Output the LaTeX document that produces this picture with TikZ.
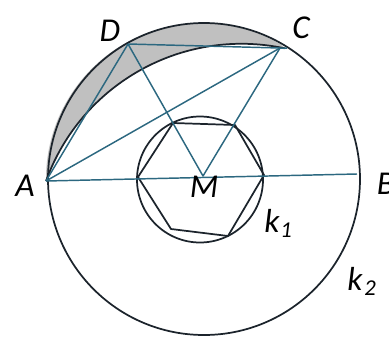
\documentclass[tikz,border=0pt]{standalone}
\usepackage{fontspec}
\setmainfont{Carlito}
\definecolor{tealc}{RGB}{44,104,128}
\definecolor{darkc}{RGB}{28,36,44}
\definecolor{shadec}{RGB}{192,192,192}
\begin{document}
\begin{tikzpicture}[x=0.75pt,y=-0.75pt,
  tealline/.style={draw=tealc,line width=1.1pt,line join=round},
  darkline/.style={draw=darkc,line width=1.3pt,line join=round},
  lbl/.style={font=\fontsize{25}{30}\selectfont\itshape,text=black,inner sep=0pt},
  subl/.style={font=\fontsize{17}{20}\selectfont\itshape,text=black,inner sep=0pt}]
\useasboundingbox (0,0) rectangle (389,336);
\coordinate (O) at (204,179);
\coordinate (I) at (200,179.5);
\coordinate (A) at (46,181);
\coordinate (B) at (357,174);
\coordinate (C) at (280,48);
\coordinate (Cx) at (287,48.2);
\coordinate (D) at (128,44);
\coordinate (M) at (203,176);
\coordinate (H1) at (138,177);
\coordinate (H2) at (173,123);
\coordinate (H3) at (235,125);
\coordinate (H4) at (264,175);
\coordinate (H5) at (228,236);
\coordinate (H6) at (171,229);
\coordinate (T) at (285.2,48.5);
% shaded lune
\fill[shadec] (A) arc[start angle=179.3,end angle=300.3,radius=156] -- (T)
  arc[start angle=282,end angle=199.9,radius=208] -- cycle;
% circles
\draw[darkline] (O) circle[radius=156];
\draw[darkline] (I) circle[radius=63];
\draw[darkline] (H1) -- (H2) -- (H3) -- (H4) -- (H5) -- (H6) -- cycle;
\draw[darkline] (A) arc[start angle=199.9,end angle=282,radius=208];
% teal lines
\draw[tealline] (A) -- (B);
\draw[tealline] (A) -- (D);
\draw[tealline] (A) -- (C);
\draw[tealline] (D) -- (Cx);
\draw[tealline] (D) -- (M) -- (C);
% labels
\node[lbl] (lD) at (110,31) {D};
\node[lbl] (lC) at (301,28) {C};
\node[lbl] (lA) at (25,186) {A};
\node[lbl] (lB) at (386,184) {B};
\node[lbl] (lM) at (204,187) {M};
\node[lbl] (lk1) at (272,221) {k};
\node[subl] (ls1) at (286,230) {1};
\node[lbl] (lk2) at (355,279) {k};
\node[subl] (ls2) at (370,288) {2};
\end{tikzpicture}
\end{document}
